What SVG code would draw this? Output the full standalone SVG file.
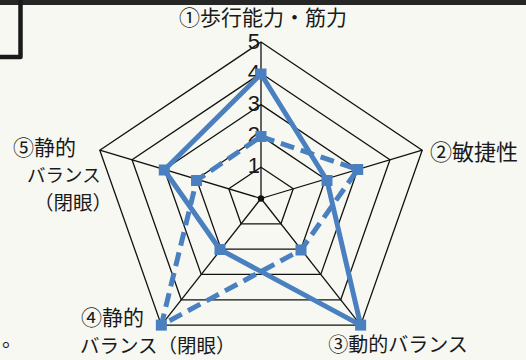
<svg xmlns="http://www.w3.org/2000/svg" width="526" height="360" viewBox="0 0 526 360">
<style>
.grid{fill:none;stroke:#111;stroke-width:1.3;stroke-linejoin:miter}
.axis{stroke:#111;stroke-width:1.3}
.ser{fill:none;stroke:#4a80c0;stroke-width:5;stroke-linejoin:round}
.dash{stroke-dasharray:14 7}
.mk{fill:#4a80c0}
.lbl{font-family:"Noto Sans CJK JP","Noto Sans",sans-serif;fill:#1a1a1a}
.num{font-family:"Liberation Sans",Arial,sans-serif;font-size:22px;fill:#1a1a1a;text-anchor:end}
</style>
<defs>
<rect id="m" x="-5.5" y="-5.5" width="11" height="11" class="mk"/>
</defs>
<rect x="0" y="0" width="526" height="360" fill="#f8f8f2"/>
<rect x="0" y="0" width="526" height="5" fill="#262626"/>
<path d="M0,57 H20.5 V0" fill="none" stroke="#1a1a1a" stroke-width="4.5" stroke-linejoin="round"/>

<g id="grid">
<polygon class="grid" points="261,167.2 293.24,188.83 280.93,223.82 241.07,223.82 228.76,188.83"/>
<polygon class="grid" points="261,135.9 325.48,179.16 300.86,249.14 221.14,249.14 196.52,179.16"/>
<polygon class="grid" points="261,104.6 357.72,169.49 320.79,274.46 201.21,274.46 164.28,169.49"/>
<polygon class="grid" points="261,73.3 389.96,159.82 340.72,299.78 181.28,299.78 132.04,159.82"/>
<polygon class="grid" points="261,42 422.2,150.15 360.65,325.1 161.35,325.1 99.8,150.15"/>
<line class="axis" x1="261" y1="198.5" x2="261" y2="42"/>
<line class="axis" x1="261" y1="198.5" x2="422.2" y2="150.15"/>
<line class="axis" x1="261" y1="198.5" x2="360.65" y2="325.1"/>
<line class="axis" x1="261" y1="198.5" x2="161.35" y2="325.1"/>
<line class="axis" x1="261" y1="198.5" x2="99.8" y2="150.15"/>
<circle cx="261" cy="198.5" r="3.2" fill="#111"/>
</g>

<g id="scale">
<text class="num" x="260" y="48.5">5</text>
<text class="num" x="260" y="79.5">4</text>
<text class="num" x="260" y="110.8">3</text>
<text class="num" x="260" y="142">2</text>
<text class="num" x="260" y="173.3">1</text>
</g>

<g id="connectors">
<polygon class="ser" points="261,74 327,180.5 360.65,325.1 220,249.5 164.28,170"/>
<polygon class="ser dash" points="261,136.5 357.72,169.49 301,250 161.35,325.1 196.52,180.5"/>
</g>

<g id="series-solid">
<use href="#m" x="261" y="74"/>
<use href="#m" x="327" y="180.5"/>
<use href="#m" x="360.65" y="325.1"/>
<use href="#m" x="220" y="249.5"/>
<use href="#m" x="164.28" y="170"/>
</g>
<g id="series-dashed">
<use href="#m" x="261" y="136.5"/>
<use href="#m" x="357.72" y="169.49"/>
<use href="#m" x="301" y="250"/>
<use href="#m" x="161.35" y="325.1"/>
<use href="#m" x="196.52" y="180.5"/>
</g>

<g id="label-1"><text class="lbl" x="263" y="24.5" font-size="21" text-anchor="middle">①歩行能力・筋力</text></g>
<g id="label-2"><text class="lbl" x="430" y="160" font-size="22">②敏捷性</text></g>
<g id="label-3"><text class="lbl" x="398" y="352" font-size="20" text-anchor="middle">③動的バランス</text></g>
<g id="label-4">
<text class="lbl" font-size="21"><tspan x="81" y="325">④静的</tspan><tspan x="80" y="353" font-size="19.5">バランス（閉眼）</tspan></text>
</g>
<g id="label-5">
<text class="lbl" font-size="21"><tspan x="13" y="155">⑤静的</tspan><tspan x="27" y="181.5" font-size="18.5">バランス</tspan><tspan x="34" y="209.5" font-size="19.5">（閉眼）</tspan></text>
</g>
<text class="lbl" x="2" y="347" font-size="20">。</text>
</svg>
